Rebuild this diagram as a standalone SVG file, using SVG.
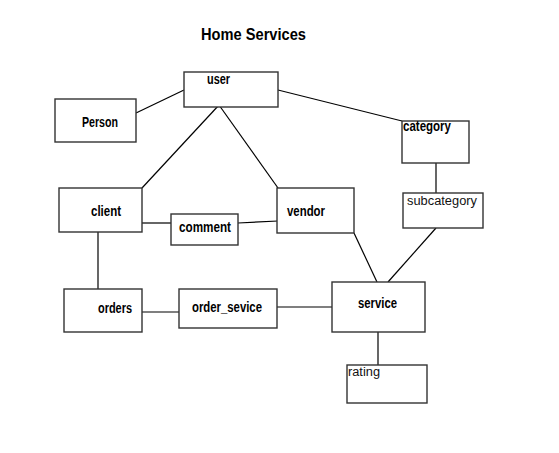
<svg xmlns="http://www.w3.org/2000/svg" width="559" height="453" viewBox="0 0 559 453">
<style>
.box{fill:#fff;stroke:#333;stroke-width:1.4}
.b{font-family:"Liberation Sans",Arial,sans-serif;font-weight:bold;font-size:14px;fill:#000}
.n{font-family:"Liberation Sans",Arial,sans-serif;font-size:12.5px;fill:#111}
.t{font-family:"Liberation Sans",Arial,sans-serif;font-weight:bold;font-size:17px;fill:#000}
#connectors line{stroke:#000;stroke-width:1.2}
</style>
<rect width="559" height="453" fill="#fff"/>
<text class="t" x="201" y="40" textLength="105" lengthAdjust="spacingAndGlyphs">Home Services</text>
<g id="connectors">
<line x1="136" y1="113" x2="184" y2="90"/>
<line x1="219" y1="105" x2="142" y2="188"/>
<line x1="219" y1="105" x2="278" y2="188"/>
<line x1="278" y1="90" x2="402" y2="121"/>
<line x1="436" y1="163" x2="436" y2="193"/>
<line x1="142" y1="223" x2="171" y2="223"/>
<line x1="238" y1="223" x2="278" y2="221"/>
<line x1="98" y1="232" x2="98" y2="289"/>
<line x1="142" y1="312" x2="179" y2="312"/>
<line x1="277" y1="307" x2="338" y2="307"/>
<line x1="354" y1="233" x2="377" y2="282"/>
<line x1="436" y1="228" x2="388" y2="282"/>
<line x1="378" y1="332" x2="378" y2="365"/>
</g>
<g id="user"><rect class="box" x="184" y="72" width="94" height="35"/><text class="b" x="207" y="84" textLength="23" lengthAdjust="spacingAndGlyphs">user</text></g>
<g id="person"><rect class="box" x="55" y="99" width="81" height="43"/><text class="b" x="82" y="127" textLength="36" lengthAdjust="spacingAndGlyphs">Person</text></g>
<g id="category"><rect class="box" x="402" y="121" width="67" height="42"/><text class="b" x="403" y="131" textLength="48" lengthAdjust="spacingAndGlyphs">category</text></g>
<g id="subcategory"><rect class="box" x="403" y="193" width="80" height="35"/><text class="n" x="407" y="205" textLength="70" lengthAdjust="spacingAndGlyphs">subcategory</text></g>
<g id="client"><rect class="box" x="59" y="188" width="83" height="44"/><text class="b" x="91" y="216" textLength="30" lengthAdjust="spacingAndGlyphs">client</text></g>
<g id="comment"><rect class="box" x="171" y="214" width="67" height="31"/><text class="b" x="179" y="232" textLength="52" lengthAdjust="spacingAndGlyphs">comment</text></g>
<g id="vendor"><rect class="box" x="277" y="188" width="77" height="45"/><text class="b" x="287" y="216" textLength="38" lengthAdjust="spacingAndGlyphs">vendor</text></g>
<g id="orders"><rect class="box" x="64" y="289" width="78" height="43"/><text class="b" x="98" y="313" textLength="34" lengthAdjust="spacingAndGlyphs">orders</text></g>
<g id="order_sevice"><rect class="box" x="179" y="289" width="98" height="39"/><text class="b" x="192" y="312" textLength="70" lengthAdjust="spacingAndGlyphs">order_sevice</text></g>
<g id="service"><rect class="box" x="332" y="282" width="93" height="50"/><text class="b" x="358" y="308" textLength="39" lengthAdjust="spacingAndGlyphs">service</text></g>
<g id="rating"><rect class="box" x="347" y="365" width="80" height="38"/><text class="n" x="348" y="376" textLength="32" lengthAdjust="spacingAndGlyphs">rating</text></g>
</svg>
